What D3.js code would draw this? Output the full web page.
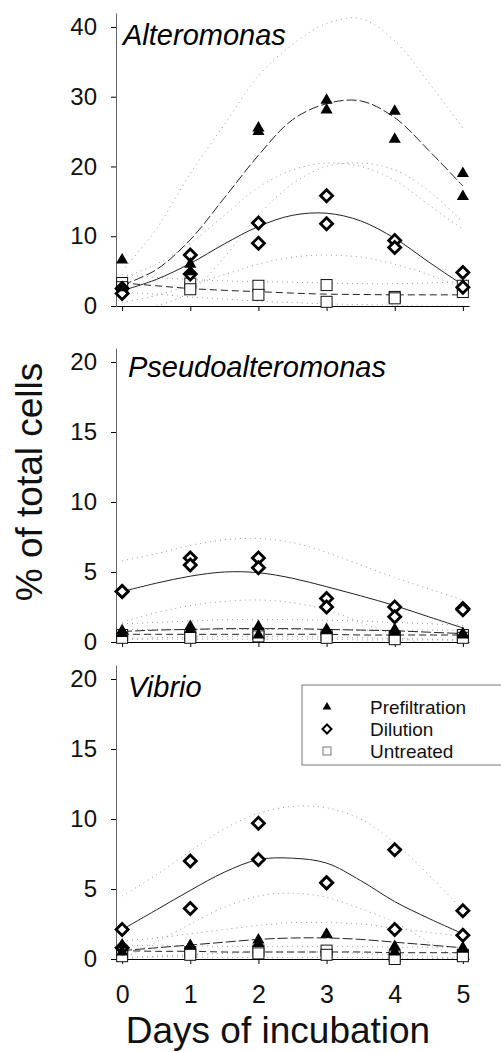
<!DOCTYPE html>
<html>
<head>
<meta charset="utf-8">
<script src="https://cdn.jsdelivr.net/npm/d3@7"></script>
<style>
  body { margin: 0; background: #fff; }
  svg { display: block; font-family: "Liberation Sans", Arial, sans-serif; }
</style>
</head>
<body>
<div id="chart"></div>
<script>
var days = [0, 1, 2, 3, 4, 5];
var fitX = [0, 0.5, 1, 1.5, 2, 2.5, 3, 3.5, 4, 4.5, 5];
var altTicks = [0, 10, 20, 30, 40];
var subTicks = [0, 5, 10, 15, 20];
var seriesNames = ["Prefiltration", "Dilution", "Untreated"];

// Alteromonas - two replicates per day
var altPre = [[6.6, 2.6], [6.0, 4.9], [25.5, 25.0], [29.5, 28.1], [27.9, 23.9], [19.0, 15.7]];
var altDil = [[2.5, 1.8], [7.3, 4.6], [11.9, 9.0], [15.8, 11.8], [9.4, 8.4], [4.8, 2.7]];
var altUnt = [[3.3, 2.7], [3.2, 2.4], [2.9, 1.6], [3.0, 0.6], [1.3, 1.1], [2.9, 2.0]];
var altPreFit = [3.0, 5.2, 9.5, 15.5, 21.6, 26.7, 29.0, 29.4, 27.0, 22.3, 17.2];
var altDilFit = [2.2, 3.8, 6.1, 8.9, 11.4, 13.0, 13.3, 12.2, 9.7, 6.3, 3.0];
var altUntFit = [3.3, 2.9, 2.5, 2.25, 2.05, 1.85, 1.7, 1.65, 1.6, 1.6, 1.6];
var altPreHi = [5, 11, 19, 26, 33, 37.5, 40.5, 41.2, 38, 32, 25.5];
var altPreLo = [-1, 0, 2, 7, 13, 17.5, 20, 20.5, 19.5, 16.5, 12];
var altDilHi = [4, 6, 9, 13, 17, 19.5, 20.5, 20, 18, 14.5, 11];
var altDilLo = [0.5, 1.5, 3, 4.5, 6, 7, 7.3, 7, 6, 4.5, 2.5];
var altUntHi = [4.5, 4.1, 3.8, 3.6, 3.5, 3.4, 3.3, 3.2, 3.2, 3.3, 3.5];
var altUntLo = [2.0, 1.7, 1.3, 1.0, 0.7, 0.5, 0.3, 0.2, 0.1, 0, 0];

// Pseudoalteromonas
var psePre = [[0.8, 0.6], [1.1, 0.9], [1.1, 0.5], [0.9, 0.8], [0.9, 0.7], [0.6, 0.5]];
var pseDil = [[3.6, 3.6], [6.0, 5.5], [6.0, 5.3], [3.1, 2.5], [2.5, 1.8], [2.4, 2.3]];
var pseUnt = [[0.5, 0.3], [0.5, 0.3], [0.6, 0.4], [0.5, 0.3], [0.4, 0.2], [0.5, 0.3]];
var psePreFit = [0.75, 0.85, 0.9, 0.95, 0.95, 0.95, 0.9, 0.85, 0.8, 0.7, 0.6];
var pseDilFit = [3.6, 4.2, 4.7, 5.0, 4.95, 4.55, 3.95, 3.3, 2.6, 1.8, 1.0];
var pseUntFit = [0.55, 0.55, 0.55, 0.55, 0.55, 0.55, 0.55, 0.5, 0.5, 0.5, 0.5];
var psePreHi = [1.3, 1.4, 1.5, 1.6, 1.6, 1.6, 1.55, 1.5, 1.4, 1.3, 1.2];
var psePreLo = [0.2, 0.3, 0.35, 0.4, 0.4, 0.4, 0.35, 0.3, 0.25, 0.2, 0.1];
var pseDilHi = [5.8, 6.3, 6.9, 7.3, 7.4, 7.1, 6.4, 5.5, 4.6, 3.8, 3.0];
var pseDilLo = [1.4, 2.1, 2.6, 2.9, 3.0, 2.8, 2.3, 1.4, 0.5, -0.3, -1];
var pseUntHi = [0.9, 0.9, 0.9, 0.9, 0.9, 0.9, 0.9, 0.85, 0.85, 0.85, 0.85];
var pseUntLo = [0.2, 0.2, 0.2, 0.2, 0.2, 0.2, 0.2, 0.15, 0.15, 0.15, 0.15];

// Vibrio
var vibPre = [[1.0, 0.5], [0.95, 0.95], [1.35, 1.1], [1.75, 1.75], [0.9, 0.5], [0.8, 0.7]];
var vibDil = [[2.1, 0.8], [7.0, 3.6], [9.7, 7.1], [5.45, 5.45], [7.8, 2.1], [3.45, 1.7]];
var vibUnt = [[0.4, 0.2], [0.5, 0.3], [0.6, 0.4], [0.6, 0.3], [0.2, 0.0], [0.3, 0.2]];
var vibPreFit = [0.6, 0.8, 1.0, 1.2, 1.4, 1.5, 1.5, 1.4, 1.2, 1.0, 0.8];
var vibDilFit = [2.1, 3.5, 4.9, 6.2, 7.1, 7.2, 6.85, 5.6, 4.1, 2.9, 1.8];
var vibUntFit = [0.6, 0.55, 0.55, 0.5, 0.5, 0.5, 0.5, 0.5, 0.45, 0.45, 0.45];
var vibPreHi = [1.3, 1.5, 1.8, 2.1, 2.4, 2.6, 2.6, 2.5, 2.2, 1.9, 1.6];
var vibPreLo = [0, 0.2, 0.3, 0.4, 0.5, 0.5, 0.5, 0.4, 0.3, 0.2, 0];
var vibDilHi = [4.5, 6, 7.7, 9.3, 10.4, 10.9, 10.8, 10.0, 8.3, 6.0, 3.5];
var vibDilLo = [0, 1.2, 2.5, 3.7, 4.5, 4.7, 4.4, 3.6, 2.6, 1.2, -0.2];
var vibUntHi = [1.0, 0.95, 0.95, 0.9, 0.9, 0.9, 0.9, 0.9, 0.85, 0.85, 0.85];
var vibUntLo = [0.15, 0.15, 0.15, 0.1, 0.1, 0.1, 0.1, 0.1, 0.05, 0.05, 0.05];

var W = 501, H = 1052;
var svg = d3.select("#chart").append("svg")
    .attr("width", W).attr("height", H);

var x = d3.scaleLinear().domain([-0.09, 5.09]).range([116, 469]);

var panels = [
  { name: "Alteromonas", top: 13, bottom: 306, max: 42, ticks: altTicks, labelX: 123, labelY: 45,
    pre: altPre, dil: altDil, unt: altUnt, fits: [altPreFit, altDilFit, altUntFit],
    bands: [altPreHi, altPreLo, altDilHi, altDilLo, altUntHi, altUntLo] },
  { name: "Pseudoalteromonas", top: 348, bottom: 642, max: 21, ticks: subTicks, labelX: 128, labelY: 377,
    pre: psePre, dil: pseDil, unt: pseUnt, fits: [psePreFit, pseDilFit, pseUntFit],
    bands: [psePreHi, psePreLo, pseDilHi, pseDilLo, pseUntHi, pseUntLo] },
  { name: "Vibrio", top: 665, bottom: 959, max: 21, ticks: subTicks, labelX: 128, labelY: 697,
    pre: vibPre, dil: vibDil, unt: vibUnt, fits: [vibPreFit, vibDilFit, vibUntFit],
    bands: [vibPreHi, vibPreLo, vibDilHi, vibDilLo, vibUntHi, vibUntLo] }
];

var fitDash = ["10,3", null, "7,4"];

function flat(pairs) {
  var out = [];
  pairs.forEach(function (p, i) {
    p.forEach(function (v) { out.push({ day: days[i], v: v }); });
  });
  return out;
}

panels.forEach(function (p, pi) {
  var y = d3.scaleLinear().domain([0, p.max]).range([p.bottom, p.top]);
  var g = svg.append("g");

  g.append("clipPath").attr("id", "clip" + pi)
    .append("rect")
    .attr("x", x.range()[0]).attr("y", p.top)
    .attr("width", x.range()[1] - x.range()[0])
    .attr("height", p.bottom - p.top);

  var line = d3.line()
    .x(function (d, i) { return x(fitX[i]); })
    .y(function (d) { return y(d); })
    .curve(d3.curveCatmullRom);

  // confidence bands, dotted
  var plot = g.append("g").attr("clip-path", "url(#clip" + pi + ")");
  p.bands.forEach(function (b) {
    plot.append("path").attr("d", line(b))
      .attr("fill", "none").attr("stroke", "#999")
      .attr("stroke-width", 1).attr("stroke-dasharray", "1,4");
  });
  p.fits.forEach(function (f, k) {
    plot.append("path").attr("d", line(f))
      .attr("fill", "none").attr("stroke", "#222")
      .attr("stroke-width", 1)
      .attr("stroke-dasharray", fitDash[k]);
  });

  // axes
  var ya = g.append("g").attr("transform", "translate(" + x.range()[0] + ",0)")
    .call(d3.axisLeft(y).tickValues(p.ticks).tickSize(5).tickPadding(14).tickSizeOuter(0));
  ya.select(".domain").attr("stroke", "#666");
  ya.selectAll("text").attr("font-size", 24).attr("fill", "#111");

  var xa = g.append("g").attr("transform", "translate(0," + p.bottom + ")")
    .call(d3.axisBottom(x).tickValues(days).tickSize(5).tickPadding(21).tickSizeOuter(0)
      .tickFormat(pi === 2 ? d3.format("d") : function () { return ""; }));
  xa.selectAll("text").attr("font-size", 25).attr("fill", "#111");

  // markers
  g.selectAll(".unt").data(flat(p.unt)).enter().append("rect")
    .attr("x", function (d) { return x(d.day) - 5.5; })
    .attr("y", function (d) { return y(d.v) - 5.5; })
    .attr("width", 11).attr("height", 11)
    .attr("fill", "#fff").attr("stroke", "#111").attr("stroke-width", 1);

  g.selectAll(".dil").data(flat(p.dil)).enter().append("path")
    .attr("d", "M0,-6L6,0L0,6L-6,0Z")
    .attr("transform", function (d) { return "translate(" + x(d.day) + "," + y(d.v) + ")"; })
    .attr("fill", "#fff").attr("stroke", "#000").attr("stroke-width", 2.8);

  g.selectAll(".pre").data(flat(p.pre)).enter().append("path")
    .attr("d", d3.symbol(d3.symbolTriangle, 64))
    .attr("transform", function (d) { return "translate(" + x(d.day) + "," + y(d.v) + ")"; })
    .attr("fill", "#000");

  g.append("text").attr("x", p.labelX).attr("y", p.labelY)
    .attr("font-size", 29).attr("font-style", "italic")
    .text(p.name);
});

// legend in the bottom panel
var lg = svg.append("g");
lg.append("rect").attr("x", 302).attr("y", 685).attr("width", 205).attr("height", 80)
  .attr("fill", "#fff").attr("stroke", "#777").attr("stroke-width", 1);
var rows = [707, 729, 751];
seriesNames.forEach(function (s, i) {
  var cy = rows[i];
  if (i === 0) {
    lg.append("path").attr("d", d3.symbol(d3.symbolTriangle, 34))
      .attr("transform", "translate(327," + cy + ")").attr("fill", "#000");
  } else if (i === 1) {
    lg.append("path").attr("d", "M0,-4.5L4.5,0L0,4.5L-4.5,0Z")
      .attr("transform", "translate(327," + cy + ")")
      .attr("fill", "#fff").attr("stroke", "#000").attr("stroke-width", 2);
  } else {
    lg.append("rect").attr("x", 323).attr("y", cy - 4).attr("width", 8).attr("height", 8)
      .attr("fill", "#fff").attr("stroke", "#777").attr("stroke-width", 1);
  }
  lg.append("text").attr("x", 370).attr("y", cy + 7)
    .attr("font-size", 19).attr("fill", "#111").text(s);
});

// axis titles
svg.append("text")
  .attr("transform", "translate(42,482) rotate(-90)")
  .attr("text-anchor", "middle").attr("font-size", 37).attr("fill", "#111")
  .text("% of total cells");
svg.append("text")
  .attr("x", 278).attr("y", 1043)
  .attr("text-anchor", "middle").attr("font-size", 37).attr("fill", "#111")
  .text("Days of incubation");
</script>
</body>
</html>
